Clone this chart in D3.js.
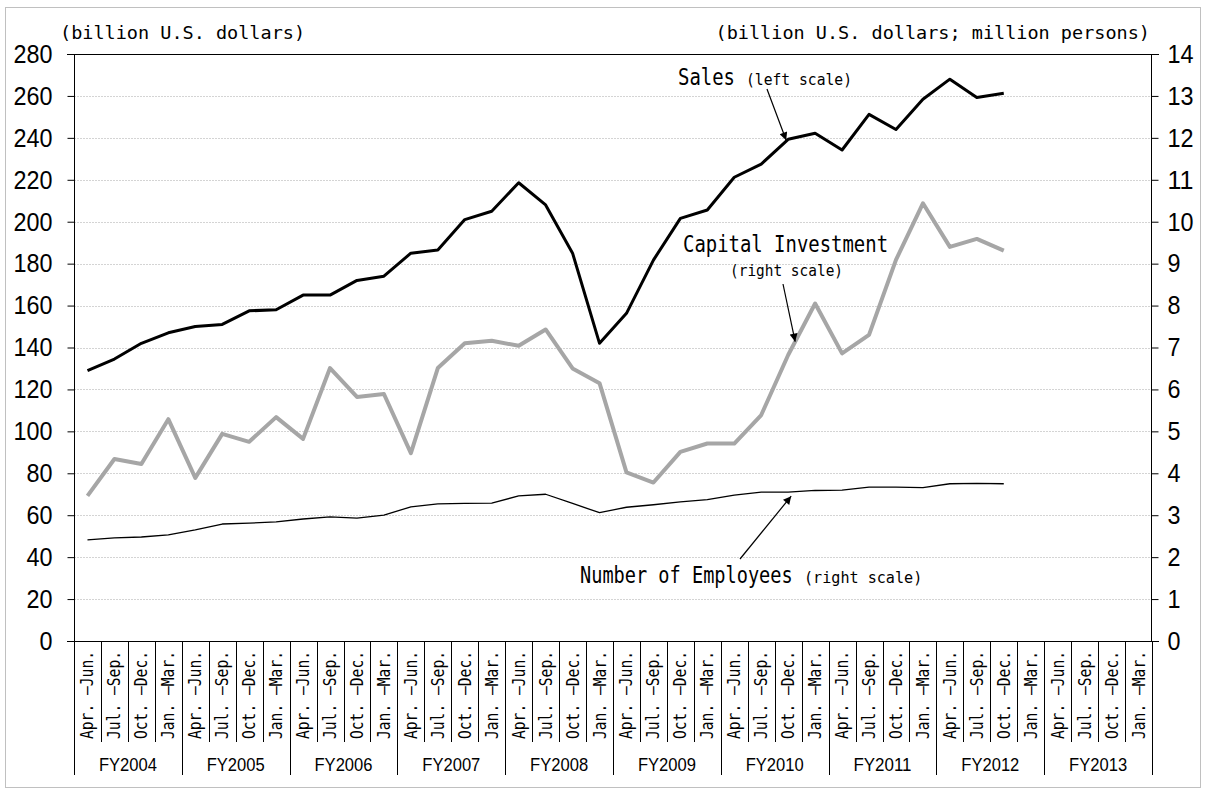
<!DOCTYPE html>
<html>
<head>
<meta charset="utf-8">
<script src="https://cdn.jsdelivr.net/npm/d3@7"></script>
<style>
  body { margin: 0; background: #fff; }
  svg { display: block; }
</style>
</head>
<body>
<div id="root"></div>
<script>
// quarters and fiscal years
const quarters = ['Apr. \u2013Jun.', 'Jul. \u2013Sep.', 'Oct. \u2013Dec.', 'Jan. \u2013Mar.'];
const fiscalYears = ['FY2004', 'FY2005', 'FY2006', 'FY2007', 'FY2008', 'FY2009', 'FY2010', 'FY2011', 'FY2012', 'FY2013'];

// Sales (left scale, billion U.S. dollars)
const sales = [129, 134.5, 142, 147, 150, 151, 157.5, 158, 165, 165, 172, 174,
  185, 186.5, 201, 205, 218.6, 208, 185, 142, 156.3, 181.7, 201.6, 205.6,
  221.2, 227.5, 239.3, 242.2, 234.2, 251.2, 244, 258.4, 268, 259.3, 261.3];
// Capital Investment (right scale, billion U.S. dollars)
const capInv = [3.46, 4.34, 4.22, 5.29, 3.89, 4.94, 4.75, 5.34, 4.82, 6.51, 5.82, 5.89,
  4.48, 6.51, 7.10, 7.16, 7.04, 7.43, 6.50, 6.15, 4.02, 3.78, 4.51, 4.71,
  4.71, 5.39, 6.82, 8.05, 6.86, 7.30, 9.09, 10.44, 9.40, 9.59, 9.31];
// Number of Employees (right scale, million persons)
const employees = [2.41, 2.46, 2.48, 2.53, 2.65, 2.79, 2.81, 2.84, 2.91, 2.96, 2.93, 3.00,
  3.20, 3.27, 3.28, 3.29, 3.46, 3.50, 3.28, 3.06, 3.19, 3.25, 3.32, 3.37,
  3.48, 3.55, 3.55, 3.59, 3.60, 3.67, 3.67, 3.66, 3.75, 3.76, 3.75];

const leftTicks = d3.range(0, 281, 20);
const rightTicks = d3.range(0, 15, 1);

//-----------------------------------------------------------------------
const W = 1206, H = 792;
const padLeft = 74, padRight = 1152, padTop = 54, padBottom = 641;
const mono = "'DejaVu Sans Mono', monospace";
const sans = "'Liberation Sans', Arial, sans-serif";

const cats = [];
fiscalYears.forEach((fy, f) => quarters.forEach((q, k) => cats.push({ fy: fy, q: q, i: f * 4 + k })));

const svg = d3.select('#root').append('svg')
  .attr('width', W).attr('height', H);

svg.append('rect')
  .attr('x', 5.5).attr('y', 7.5).attr('width', W - 11).attr('height', H - 12)
  .attr('fill', '#fff').attr('stroke', '#c0c0c0');

const xScale = d3.scaleBand().domain(cats.map(d => d.i)).range([padLeft, padRight]);
const step = xScale.bandwidth();
const xc = i => xScale(i) + step / 2;
const yL = d3.scaleLinear().domain([0, 280]).range([padBottom, padTop]);
const yR = d3.scaleLinear().domain([0, 14]).range([padBottom, padTop]);

// mono text helper: narrows the glyphs to a given width per character
function txt(g, str, x, y, size, charW, anchor) {
  const sx = charW / (0.602 * size);
  return g.append('text')
    .attr('transform', `translate(${x},${y}) scale(${sx},1)`)
    .attr('font-family', mono)
    .attr('font-size', size)
    .attr('text-anchor', anchor || 'start')
    .attr('fill', '#000')
    .text(str);
}

// gridlines
svg.append('g').selectAll('line')
  .data(leftTicks.filter(v => v > 0 && v < 280))
  .enter().append('line')
  .attr('x1', padLeft).attr('x2', padRight)
  .attr('y1', d => Math.round(yL(d)) + 0.5).attr('y2', d => Math.round(yL(d)) + 0.5)
  .attr('stroke', '#d4d4d4').attr('stroke-dasharray', '2,1');

svg.append('line')
  .attr('x1', padLeft - 7).attr('x2', padRight + 7)
  .attr('y1', Math.round(yL(280)) + 0.5).attr('y2', Math.round(yL(280)) + 0.5)
  .attr('stroke', '#000');

// axes
const yAxisL = d3.axisLeft(yL).tickValues(leftTicks).tickSize(7).tickPadding(15).tickFormat(d3.format('d'));
const yAxisR = d3.axisRight(yR).tickValues(rightTicks).tickSize(7).tickPadding(9).tickFormat(d3.format('d'));

const gL = svg.append('g').attr('transform', `translate(${padLeft + 0.5},0)`).call(yAxisL);
const gR = svg.append('g').attr('transform', `translate(${padRight - 0.5},0)`).call(yAxisR);
[gL, gR].forEach(g => {
  g.select('.domain').remove();
  g.selectAll('.tick line').attr('stroke', '#000');
  g.selectAll('.tick text')
    .attr('font-family', sans)
    .attr('font-size', 26)
    .attr('fill', '#000')
    .attr('textLength', d => String(d).length * 13)
    .attr('lengthAdjust', 'spacingAndGlyphs');
});
svg.append('line').attr('x1', padLeft + 0.5).attr('x2', padLeft + 0.5).attr('y1', padTop).attr('y2', padBottom).attr('stroke', '#000');
svg.append('line').attr('x1', padRight - 0.5).attr('x2', padRight - 0.5).attr('y1', padTop).attr('y2', padBottom).attr('stroke', '#000');
svg.append('line').attr('x1', padLeft - 7).attr('x2', padRight + 7).attr('y1', padBottom + 0.5).attr('y2', padBottom + 0.5).attr('stroke', '#000');

// category axis: separators
const sepG = svg.append('g');
d3.range(0, cats.length + 1).forEach(i => {
  const x = Math.round(i < cats.length ? xScale(i) : padRight) + 0.5;
  sepG.append('line')
    .attr('x1', x).attr('x2', x)
    .attr('y1', padBottom).attr('y2', i % 4 === 0 ? 775 : 742)
    .attr('stroke', '#000').attr('stroke-width', 1);
});

svg.append('g').selectAll('text')
  .data(cats).enter().append('text')
  .attr('transform', d => `translate(${xc(d.i) + 6},695) rotate(-90)`)
  .attr('font-family', mono)
  .attr('font-size', 17)
  .attr('text-anchor', 'middle')
  .attr('textLength', 88)
  .attr('lengthAdjust', 'spacingAndGlyphs')
  .text(d => d.q);

const fyG = svg.append('g');
fiscalYears.forEach((fy, f) => {
  const cx = (xScale(f * 4) + xScale(f * 4 + 3) + step) / 2;
  fyG.append('text')
    .attr('x', cx).attr('y', 771)
    .attr('font-family', sans).attr('font-size', 19)
    .attr('text-anchor', 'middle')
    .attr('textLength', 58).attr('lengthAdjust', 'spacingAndGlyphs')
    .text(fy);
});

// unit titles
txt(svg, '(billion U.S. dollars)', 60, 39, 18.5, 11.14);
txt(svg, '(billion U.S. dollars; million persons)', 1150, 39, 18.5, 11.14, 'end');

// series lines
const line = (scale) => d3.line().x((d, i) => xc(i)).y(d => scale(d));

svg.append('path').datum(employees)
  .attr('d', line(yR)).attr('fill', 'none')
  .attr('stroke', '#000').attr('stroke-width', 1.3).attr('stroke-linejoin', 'round');
svg.append('path').datum(capInv)
  .attr('d', line(yR)).attr('fill', 'none')
  .attr('stroke', '#a6a6a6').attr('stroke-width', 4).attr('stroke-linejoin', 'round');
svg.append('path').datum(sales)
  .attr('d', line(yL)).attr('fill', 'none')
  .attr('stroke', '#000').attr('stroke-width', 3).attr('stroke-linejoin', 'round');

// annotations
svg.append('defs').append('marker')
  .attr('id', 'arrow').attr('viewBox', '0 0 10 10')
  .attr('refX', 10).attr('refY', 5)
  .attr('markerWidth', 10).attr('markerHeight', 8)
  .attr('markerUnits', 'userSpaceOnUse')
  .attr('orient', 'auto')
  .append('path').attr('d', 'M0,0 L10,5 L0,10 z').attr('fill', '#000');

function arrow(x1, y1, x2, y2) {
  svg.append('line')
    .attr('x1', x1).attr('y1', y1).attr('x2', x2).attr('y2', y2)
    .attr('stroke', '#000').attr('stroke-width', 1.2)
    .attr('marker-end', 'url(#arrow)');
}

txt(svg, 'Sales', 678, 85, 23, 11.4);
txt(svg, '(left scale)', 746, 85, 16.5, 8.83);
arrow(767, 89, xc(26) - 2, yL(sales[26]) + 1);

txt(svg, 'Capital Investment', 683, 252, 23, 11.4);
txt(svg, '(right scale)', 730, 276, 16.5, 8.7);
const capX = xc(26) + 0.26 * step;
const capY = yR(capInv[26]) + 0.26 * (yR(capInv[27]) - yR(capInv[26]));
arrow(783, 284, capX, capY);

txt(svg, 'Number of Employees', 580, 583, 23, 11.2);
txt(svg, '(right scale)', 804, 583, 16.5, 9.1);
arrow(740, 559, xc(26) + 3, yR(employees[26]) + 4);
</script>
</body>
</html>
